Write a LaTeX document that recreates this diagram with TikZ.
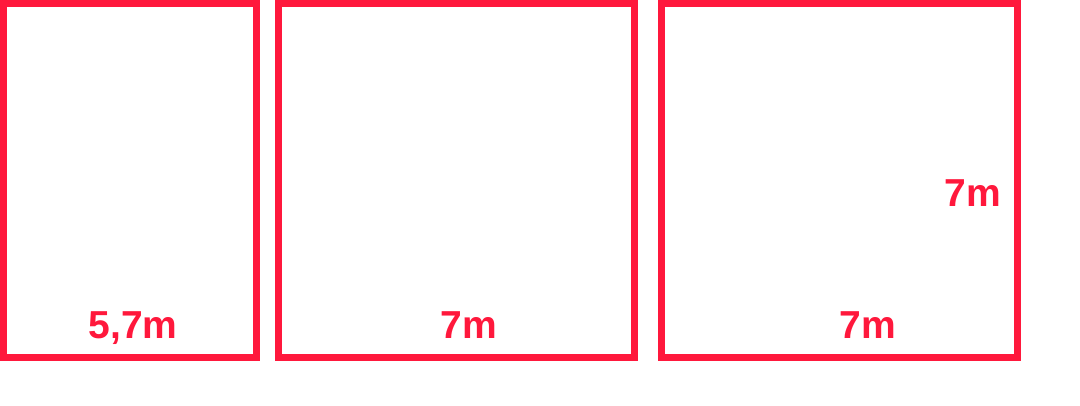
\documentclass[tikz,border=0pt]{standalone}
\usepackage{fontspec}
\setmainfont{Liberation Sans}
\definecolor{boxred}{RGB}{255,24,60}
\begin{document}
\begin{tikzpicture}[x=1pt,y=-1pt,
  roombox/.style={draw=boxred,line width=6.5pt},
  dimlabel/.style={text=boxred,font=\fontsize{39}{39}\selectfont\bfseries,inner sep=0pt,anchor=base}]
\useasboundingbox (0,0) rectangle (1080,405);
\fill[white] (0,0) rectangle (1080,405);
\draw[roombox] (3.3,3.3) rectangle (256.7,357.7);
\draw[roombox] (278.3,3.3) rectangle (634.7,357.7);
\draw[roombox] (661.3,3.3) rectangle (1017.7,357.7);
\node[dimlabel] (l1) at (133,338) {5,7m};
\node[dimlabel] (l2) at (469,338) {7m};
\node[dimlabel] (l3) at (868,338) {7m};
\node[dimlabel] (l4) at (973,206) {7m};
\end{tikzpicture}
\end{document}
